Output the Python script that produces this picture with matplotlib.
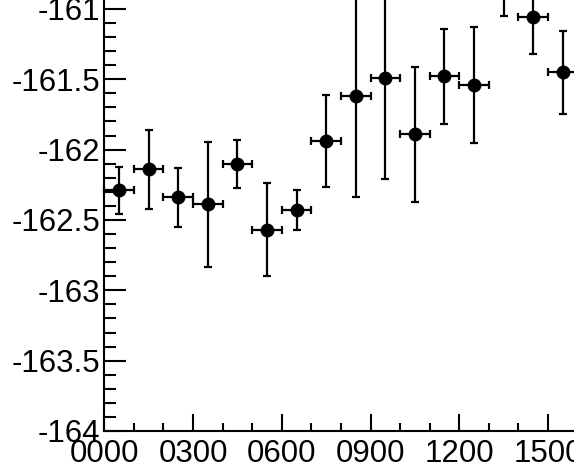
import matplotlib
matplotlib.use('Agg')
import matplotlib.pyplot as plt
from matplotlib.ticker import MultipleLocator, FuncFormatter

plt.rcParams['font.family'] = ['Liberation Sans', 'DejaVu Sans']

# --- dados (hora do dia, valor, erros) ---
hours = [0.5, 1.5, 2.5, 3.5, 4.5, 5.5, 6.5, 7.5, 8.5, 9.5, 10.5, 11.5, 12.5, 13.5, 14.5, 15.5]
values = [-162.29, -162.14, -162.34, -162.39, -162.10, -162.57, -162.43, -161.94,
          -161.62, -161.49, -161.89, -161.48, -161.54, -160.70, -161.06, -161.45]
y_err = [0.165, 0.28, 0.21, 0.445, 0.17, 0.33, 0.14, 0.325,
         0.72, 0.72, 0.48, 0.34, 0.41, 0.35, 0.26, 0.295]
x_err = [0.5] * len(hours)

# eixo 0000-2400, a figura mostra so uma parte (recorte do canvas original)
XMIN, XMAX = 0, 24
YMIN, YMAX = -164, -160
W, H = 574, 466
px_per_hour = 29.58
px_per_unit = 140.7
x0, y0 = 104.3, 466 - 431

fig = plt.figure(figsize=(W / 100, H / 100), dpi=100)
ax = fig.add_axes([x0 / W, y0 / H,
                   (XMAX - XMIN) * px_per_hour / W,
                   (YMAX - YMIN) * px_per_unit / H])

ax.errorbar(hours, values, xerr=x_err, yerr=y_err, fmt='o', color='black',
            markersize=9, elinewidth=1.6, capsize=3, capthick=1.6, clip_on=False)

ax.set_xlim(XMIN, XMAX)
ax.set_ylim(YMIN, YMAX)

ax.xaxis.set_major_locator(MultipleLocator(3))
ax.xaxis.set_minor_locator(MultipleLocator(1))
ax.xaxis.set_major_formatter(FuncFormatter(lambda v, p: f"{int(round(v)):02d}00"))
ax.yaxis.set_major_locator(MultipleLocator(0.5))
ax.yaxis.set_minor_locator(MultipleLocator(0.1))
ax.yaxis.set_major_formatter(FuncFormatter(lambda v, p: f"{v:g}"))

ax.tick_params(axis='both', which='both', direction='in', width=1.5, labelsize=22.5)
ax.tick_params(axis='y', which='major', length=16, pad=3)
ax.tick_params(axis='y', which='minor', length=8.4)
ax.tick_params(axis='x', which='major', length=12, pad=6)
ax.tick_params(axis='x', which='minor', length=6)
for s in ax.spines.values():
    s.set_linewidth(1.5)

fig.savefig('out.png', dpi=100)
